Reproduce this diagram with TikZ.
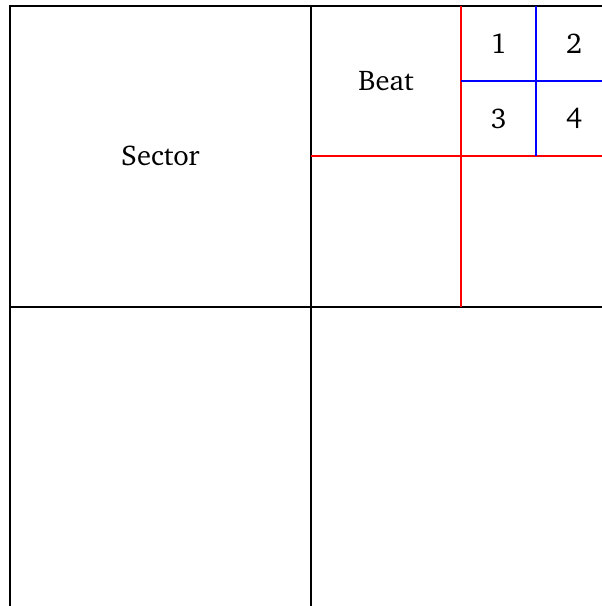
\documentclass[tikz,border=0pt]{standalone}
\usepackage[T1]{fontenc}
\usepackage{charter}
\usepackage{xcolor}
\usetikzlibrary{positioning, calc}

\begin{document}
\begin{tikzpicture}[
    every node/.style={font=\fontsize{10.8}{13}\selectfont},
    border/.style={
        draw=black,
        line width=0.8pt
    },
    beatline/.style={
        draw=red,
        line width=0.8pt
    },
    subline/.style={
        draw=blue,
        line width=0.8pt
    },
    label/.style={
        inner sep=0pt,
        anchor=center
    }
]

\useasboundingbox (-0.133,0.02) rectangle (7.872,8.079);

% Sectors
\draw[border] (0,0) rectangle (8,8);
\draw[border] (4,0) -- (4,8);
\draw[border] (0,4) -- (8,4);

% Beats
\draw[beatline] (6,4) -- (6,8);
\draw[beatline] (4,6) -- (8,6);

% Sub-beats
\draw[subline] (7,6) -- (7,8);
\draw[subline] (6,7) -- (8,7);

% Labels
\node[label] (sector) at (2,6) {Sector};
\node[label] (beat) at (5,7) {Beat};
\node[label] (one) at (6.5,7.5) {1};
\node[label] (two) at (7.5,7.5) {2};
\node[label] (three) at (6.5,6.5) {3};
\node[label] (four) at (7.5,6.5) {4};

\end{tikzpicture}
\end{document}
